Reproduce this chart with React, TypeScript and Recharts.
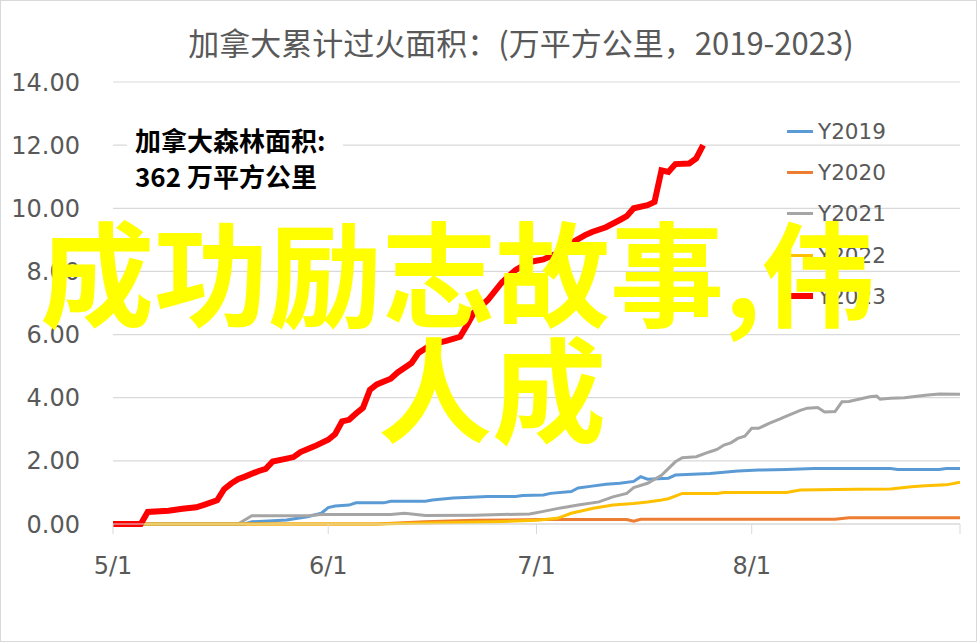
import { LineChart, Line, XAxis, YAxis, CartesianGrid, Legend } from 'recharts';

// days counted from 5/1 (day 0) to 8/31 (day 122)
const dateTicks = [0, 31, 61, 92, 122];
const dateLabels = ['5/1', '6/1', '7/1', '8/1', ''];
const valueTicks = [0, 2, 4, 6, 8, 10, 12, 14];

const days2019 = [0, 19, 20, 25, 28, 30, 31, 32, 34, 35, 39, 40, 45, 46, 49, 54, 58, 59, 62, 63, 66, 67, 69, 71, 73, 75, 76, 77, 80, 81, 86, 90, 93, 97, 101, 112, 113, 119, 120, 122];
const vals2019 = [0, 0, 0.07, 0.13, 0.23, 0.34, 0.52, 0.57, 0.6, 0.67, 0.67, 0.72, 0.72, 0.76, 0.82, 0.87, 0.87, 0.9, 0.92, 0.97, 1.03, 1.14, 1.2, 1.26, 1.29, 1.35, 1.5, 1.42, 1.45, 1.55, 1.6, 1.68, 1.71, 1.73, 1.76, 1.76, 1.73, 1.73, 1.76, 1.76];

const days2020 = [0, 38, 45, 52, 62, 74, 75, 76, 104, 106, 122];
const vals2020 = [0, 0, 0.07, 0.12, 0.14, 0.14, 0.09, 0.15, 0.15, 0.2, 0.2];

const days2021 = [0, 18, 20, 28, 30, 40, 42, 45, 52, 60, 62, 64.5, 67, 70, 72, 74, 75, 77, 79, 81, 82, 84, 86, 87, 88, 89, 90, 91, 92, 93, 94.5, 96, 97, 99, 100, 101.5, 102.5, 104, 105, 106, 109, 110, 110.5, 112, 114, 117, 119, 122];
const vals2021 = [0, 0, 0.26, 0.26, 0.3, 0.3, 0.34, 0.27, 0.28, 0.32, 0.4, 0.51, 0.6, 0.7, 0.86, 0.97, 1.15, 1.29, 1.54, 1.97, 2.1, 2.13, 2.29, 2.36, 2.5, 2.57, 2.71, 2.78, 3.03, 3.03, 3.19, 3.32, 3.42, 3.6, 3.67, 3.69, 3.55, 3.56, 3.87, 3.88, 4.03, 4.05, 3.95, 3.98, 4.0, 4.08, 4.12, 4.11];

const days2022 = [0, 38, 45, 55, 61, 64, 66, 69, 72, 75, 77, 79, 80, 82, 87, 88, 97, 99, 107, 112, 115, 117, 120, 122];
const vals2022 = [0, 0, 0.03, 0.07, 0.12, 0.18, 0.34, 0.49, 0.6, 0.65, 0.7, 0.76, 0.8, 0.97, 0.97, 1.0, 1.0, 1.08, 1.1, 1.11, 1.18, 1.21, 1.24, 1.32];

const days2023 = [0, 4, 5, 8, 10, 12, 13, 15, 16, 17, 18, 19, 21, 22, 23, 25, 26, 27, 29, 31, 32, 33, 34, 35, 36, 37, 38, 40, 41, 43, 44, 46, 48, 50, 51, 52, 54, 56, 58, 60, 62, 64, 66, 68, 69, 71, 73, 74, 75, 77, 78, 79, 80, 81, 83, 84, 85];
const vals2023 = [0, 0, 0.38, 0.42, 0.48, 0.53, 0.6, 0.75, 1.1, 1.28, 1.42, 1.5, 1.68, 1.75, 1.98, 2.07, 2.12, 2.28, 2.46, 2.67, 2.85, 3.25, 3.3, 3.5, 3.68, 4.25, 4.42, 4.6, 4.8, 5.1, 5.42, 5.7, 5.8, 5.93, 6.3, 6.7, 7.1, 7.65, 8.05, 8.3, 8.38, 8.58, 8.9, 9.15, 9.25, 9.4, 9.63, 9.75, 10.0, 10.1, 10.2, 11.2, 11.15, 11.4, 11.42, 11.58, 12.0];

const seriesNames = ['Y2019', 'Y2020', 'Y2021', 'Y2022', 'Y2023'];
const seriesColors = ['#5B9BD5', '#ED7D31', '#A5A5A5', '#FFC000', '#FF0000'];
const seriesWidths = [3, 3, 3, 3, 6];
const seriesDays = [days2019, days2020, days2021, days2022, days2023];
const seriesVals = [vals2019, vals2020, vals2021, vals2022, vals2023];

const series = seriesNames.map((name, i) => ({
  name,
  color: seriesColors[i],
  width: seriesWidths[i],
  data: seriesDays[i].map((d, j) => ({ day: d, value: seriesVals[i][j] })),
}));

const numFont = '"DejaVu Sans", "Noto Sans CJK SC", sans-serif';
const cjkFont = '"Noto Sans CJK SC", "Noto Sans", sans-serif';

function renderLegend() {
  return (
    <div style={{ fontFamily: numFont, fontSize: 21.5, color: '#595959' }}>
      {series.map((s) => (
        <div key={s.name} style={{ height: 41.2, display: 'flex', alignItems: 'center' }}>
          <span style={{ display: 'inline-block', width: 26, height: s.width, background: s.color, marginRight: 5 }} />
          <span>{s.name}</span>
        </div>
      ))}
    </div>
  );
}

export default function App() {
  return (
    <div style={{ position: 'absolute', left: 0, top: 0, width: 980, height: 643, background: '#fff', overflow: 'hidden' }}>
      <LineChart width={980} height={643} margin={{ top: 82, right: 20, bottom: 59, left: 0 }}>
        <CartesianGrid vertical={false} stroke="#d9d9d9" strokeWidth={1.2} />
        <XAxis
          dataKey="day"
          type="number"
          domain={[0, 122]}
          ticks={dateTicks}
          interval={0}
          allowDuplicatedCategory={false}
          tickFormatter={(v) => dateLabels[dateTicks.indexOf(v)] ?? ''}
          height={60}
          tickSize={10}
          tickMargin={23}
          stroke="#d9d9d9"
          tick={{ fill: '#595959', fontSize: 24, fontFamily: numFont }}
        />
        <YAxis
          domain={[0, 14]}
          ticks={valueTicks}
          interval={0}
          width={113}
          axisLine={false}
          tickLine={false}
          tickSize={0}
          tickMargin={33}
          tickFormatter={(v) => Number(v).toFixed(2)}
          tick={{ fill: '#595959', fontSize: 24, fontFamily: numFont }}
        />
        <Legend
          content={renderLegend}
          layout="vertical"
          verticalAlign="middle"
          align="center"
          wrapperStyle={{ position: 'absolute', top: 111, left: 787, width: 150 }}
        />
        {series.map((s) => (
          <Line
            key={s.name}
            data={s.data}
            dataKey="value"
            name={s.name}
            type="linear"
            stroke={s.color}
            strokeWidth={s.width}
            dot={false}
            activeDot={false}
            isAnimationActive={false}
          />
        ))}
      </LineChart>
      <svg width={980} height={643} style={{ position: 'absolute', left: 0, top: 0, pointerEvents: 'none' }}>
        <text x={521} y={55} textAnchor="middle" fontFamily={cjkFont} fontSize={31} fill="#595959">
          加拿大累计过火面积：(万平方公里，2019-2023)
        </text>
        <rect x={127} y={124} width={216} height={74} fill="#fff" />
        <text x={135} y={151} fontFamily={cjkFont} fontSize={26} fontWeight={700} fill="#000">
          加拿大森林面积:
        </text>
        <text x={135} y={187} fontFamily={cjkFont} fontSize={26} fontWeight={700} fill="#000">
          362 万平方公里
        </text>
        <text x={40} y={318} fontFamily={cjkFont} fontSize={114} fontWeight={700} fill="#FFFF00">
          成功励志故事,伟
        </text>
        <text x={378} y={434} fontFamily={cjkFont} fontSize={114} fontWeight={700} fill="#FFFF00">
          人成
        </text>
        <rect x={0.5} y={0.5} width={976} height={641} fill="none" stroke="#d9d9d9" />
      </svg>
    </div>
  );
}
